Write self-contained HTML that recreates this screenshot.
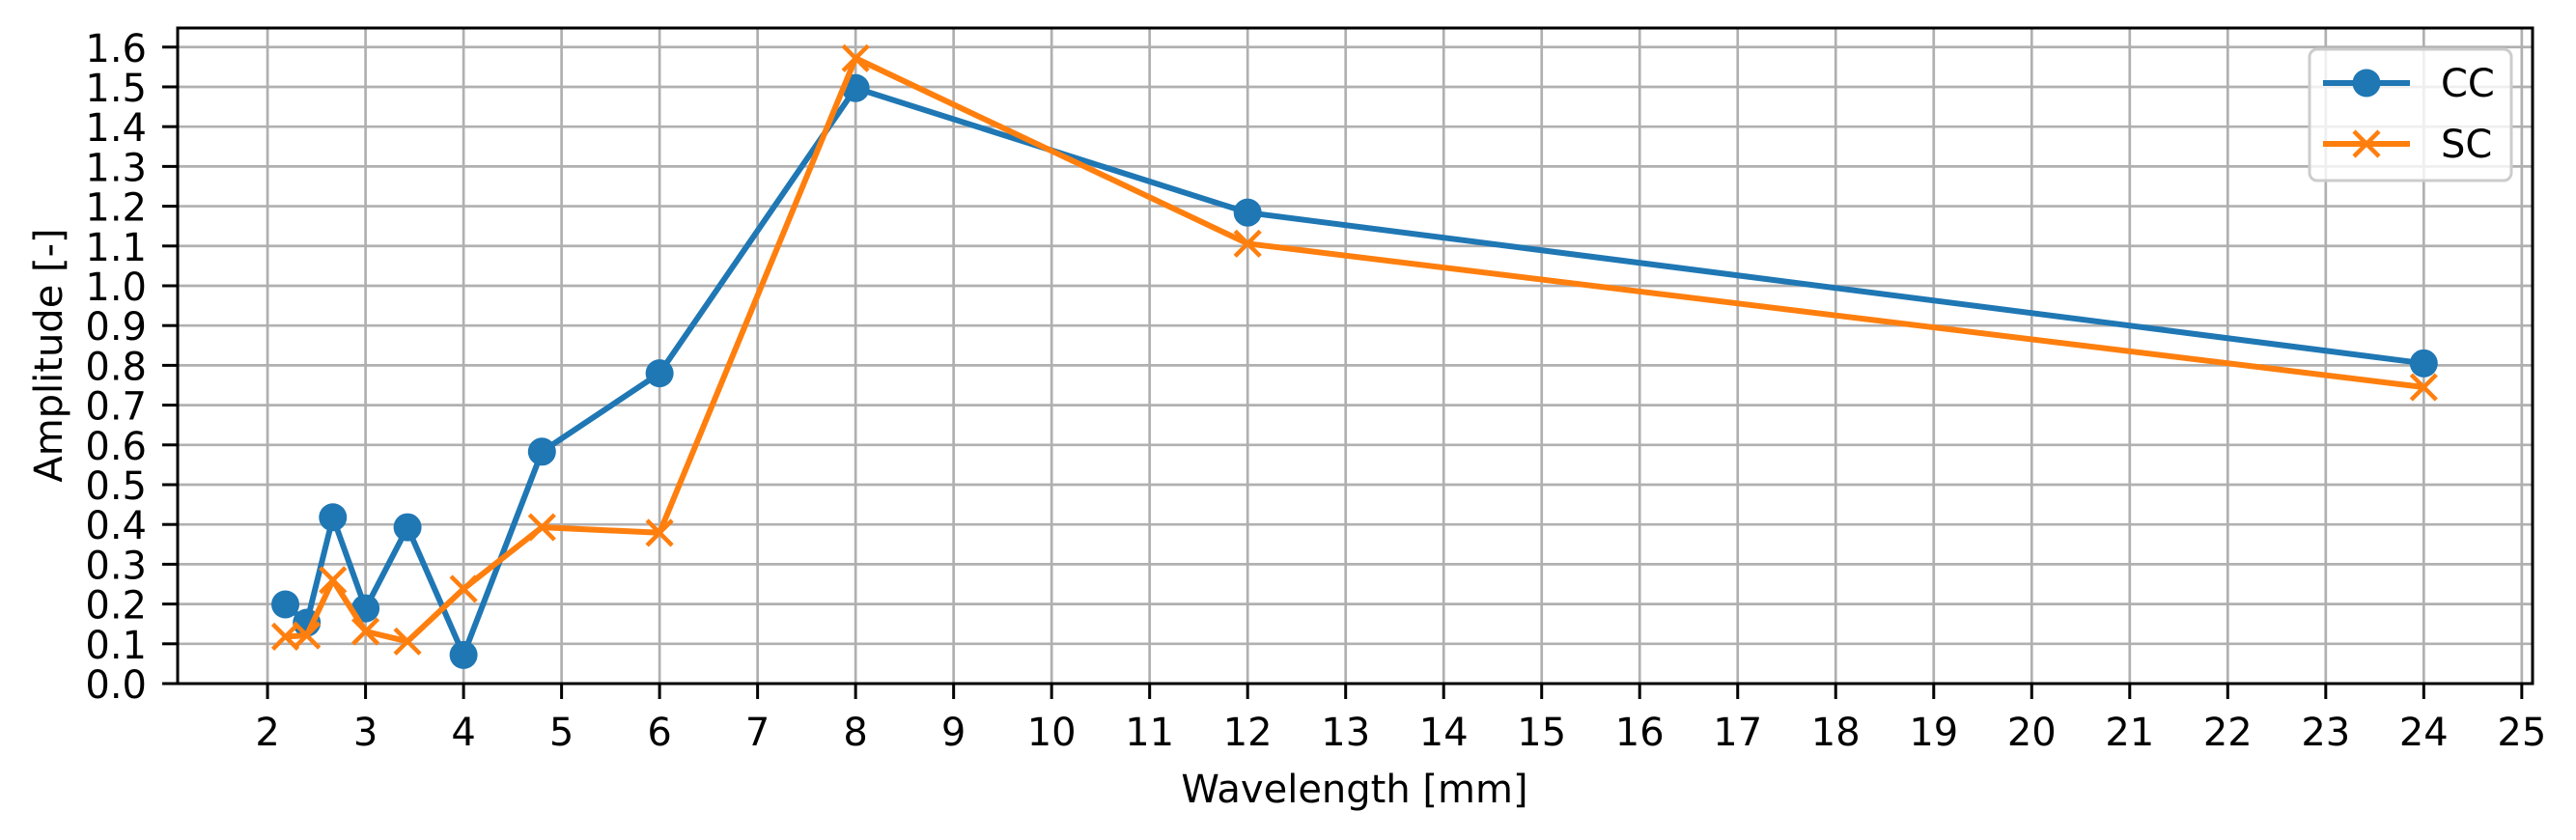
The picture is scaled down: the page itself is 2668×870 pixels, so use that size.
<!DOCTYPE html>
<html><head><meta charset="utf-8"><style>
html,body{margin:0;padding:0;background:#fff;}
svg{display:block;}
text{font-family:"DejaVu Sans","Liberation Sans",sans-serif;fill:#000;}
</style></head><body>
<svg id="chart" xmlns="http://www.w3.org/2000/svg" width="2668" height="870" viewBox="0 0 2668 870">
<rect width="2668" height="870" fill="#fff"/>
<g id="grid"></g>
<g id="series"></g>
<rect x="184" y="29" width="2439" height="679" fill="none" stroke="#000" stroke-width="3"/>
<g id="ticks"></g>
<text x="1403" y="831" font-size="40" text-anchor="middle">Wavelength [mm]</text>
<text x="0" y="0" font-size="40" text-anchor="middle" transform="translate(64,368) rotate(-90)">Amplitude [-]</text>
<g>
<rect x="2392" y="51" width="209" height="136" rx="8" fill="#fff" fill-opacity="0.8" stroke="#cccccc" stroke-width="3"/>
<g>
<line x1="2406" y1="86" x2="2496" y2="86" stroke="#1f77b4" stroke-width="6"/>
<circle cx="2451" cy="86" r="14.5" fill="#1f77b4"/>
<text x="2528" y="100" font-size="40">CC</text>
</g>
<g>
<line x1="2406" y1="149" x2="2496" y2="149" stroke="#ff7f0e" stroke-width="6"/>
<path d="M2438 136 L2464 162 M2438 162 L2464 136" stroke="#ff7f0e" stroke-width="4.5"/>
<text x="2528" y="163" font-size="40">SC</text>
</g>
</g>
</svg>
<script>
const wavelengths = [24/11, 2.4, 24/9, 3, 24/7, 4, 4.8, 6, 8, 12, 24];
const ccValues = [0.199, 0.153, 0.418, 0.189, 0.393, 0.072, 0.583, 0.78, 1.497, 1.184, 0.805];
const scValues = [0.118, 0.121, 0.26, 0.131, 0.106, 0.238, 0.393, 0.379, 1.572, 1.106, 0.745];
const xTicks = [2,3,4,5,6,7,8,9,10,11,12,13,14,15,16,17,18,19,20,21,22,23,24,25];
const yTicks = [0,0.1,0.2,0.3,0.4,0.5,0.6,0.7,0.8,0.9,1.0,1.1,1.2,1.3,1.4,1.5,1.6];

const NS = "http://www.w3.org/2000/svg";
const L = 184, R = 2623, T = 29, B = 708;
const xmin = 1.083, xmax = 25.11, ymin = 0, ymax = 1.648;
function xs(v){ return L + (v - xmin) / (xmax - xmin) * (R - L); }
function ys(v){ return B - (v - ymin) / (ymax - ymin) * (B - T); }
function mk(tag, attrs, parent){
  const e = document.createElementNS(NS, tag);
  for (const k in attrs) e.setAttribute(k, attrs[k]);
  parent.appendChild(e);
  return e;
}
const grid = document.getElementById('grid');
const ticks = document.getElementById('ticks');
const series = document.getElementById('series');

xTicks.forEach(v => {
  const x = xs(v);
  const g = mk('line', {x1:x, y1:T, x2:x, y2:B, stroke:'#b0b0b0', 'stroke-width':2.7}, grid);
  
  
  const t = mk('line', {x1:x, y1:B, x2:x, y2:B+16, stroke:'#000', 'stroke-width':3}, ticks);
  
  
  const lb = mk('text', {x:x, y:772, 'font-size':40, 'text-anchor':'middle'}, ticks);
  lb.textContent = String(v);
  
  
});
yTicks.forEach(v => {
  const y = ys(v);
  const g = mk('line', {x1:L, y1:y, x2:R, y2:y, stroke:'#b0b0b0', 'stroke-width':2.7}, grid);
  
  
  const t = mk('line', {x1:L-16, y1:y, x2:L, y2:y, stroke:'#000', 'stroke-width':3}, ticks);
  
  
  const lb = mk('text', {x:152, y:y+15, 'font-size':40, 'text-anchor':'end'}, ticks);
  lb.textContent = v.toFixed(1);
  
  
});

function drawSeries(vals, color, marker, name){
  const pts = wavelengths.map((w,i) => xs(w).toFixed(1) + ',' + ys(vals[i]).toFixed(1)).join(' ');
  const pl = mk('polyline', {points:pts, fill:'none', stroke:color, 'stroke-width':6, 'stroke-linejoin':'round'}, series);
  
  
  wavelengths.forEach((w,i) => {
    const x = xs(w), y = ys(vals[i]);
    let m;
    if (marker === 'o') {
      m = mk('circle', {cx:x, cy:y, r:14.5, fill:color}, series);
    } else {
      m = mk('path', {d:`M${x-13} ${y-13} L${x+13} ${y+13} M${x-13} ${y+13} L${x+13} ${y-13}`, stroke:color, 'stroke-width':4.5, fill:'none'}, series);
    }
    
    
  });
}
drawSeries(ccValues, '#1f77b4', 'o', 'cc');
drawSeries(scValues, '#ff7f0e', 'x', 'sc');
</script>
</body></html>
